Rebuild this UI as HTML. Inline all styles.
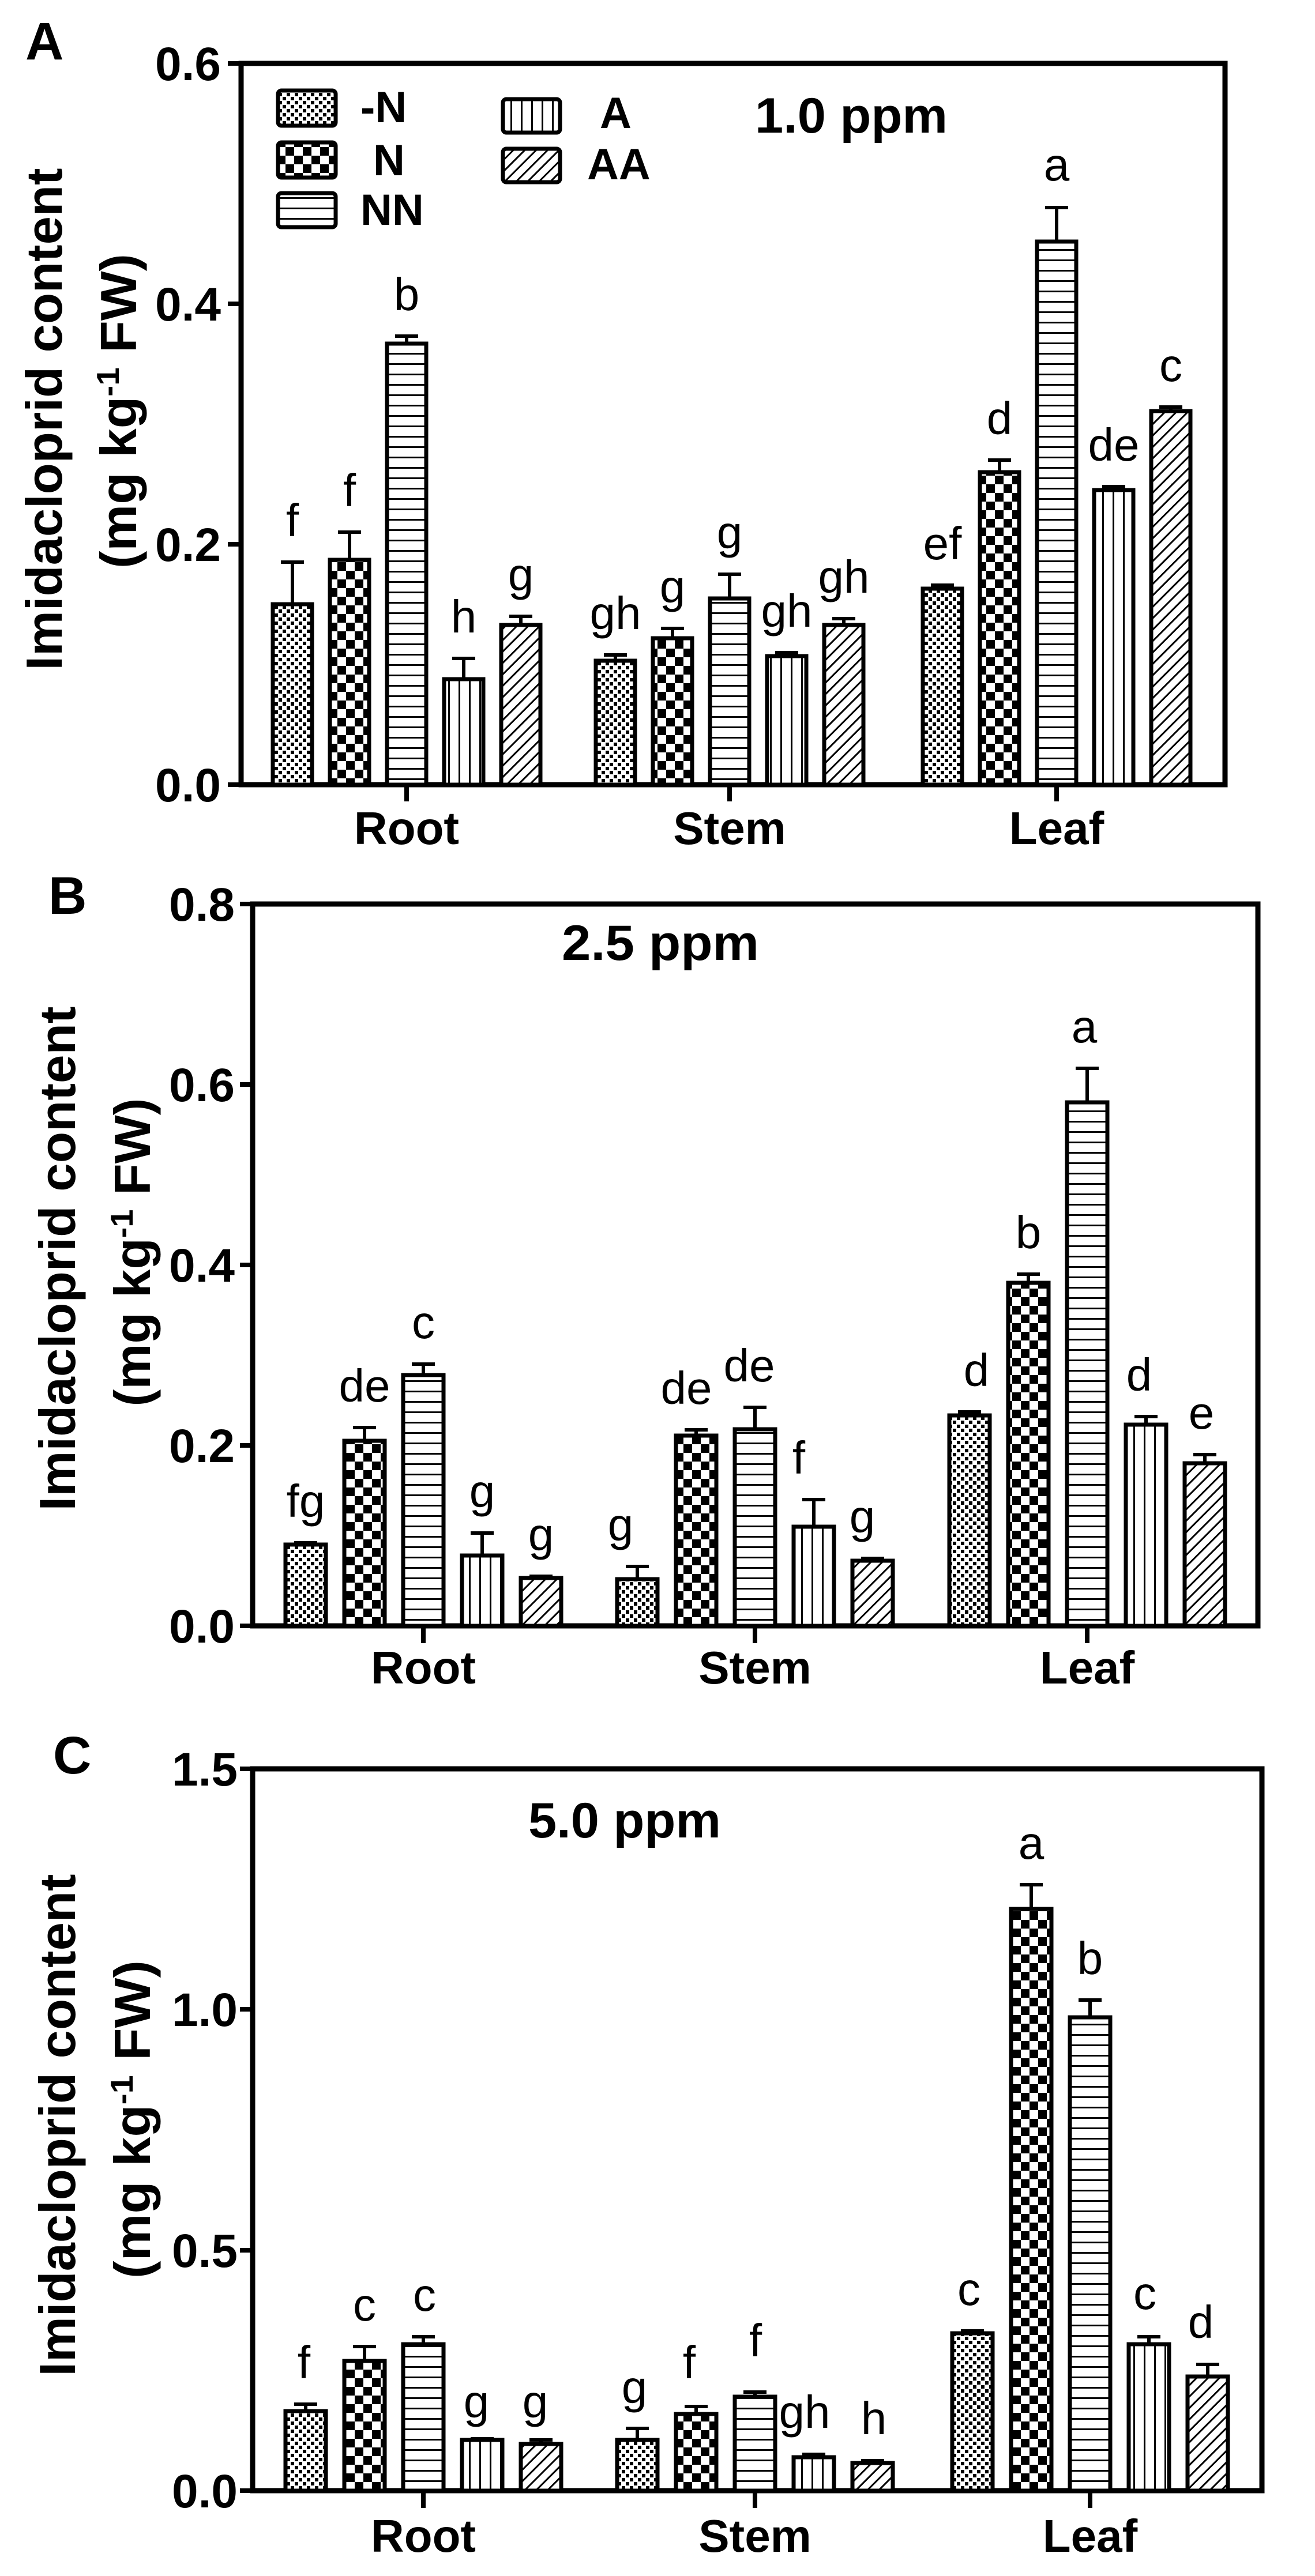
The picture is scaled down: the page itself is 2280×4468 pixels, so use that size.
<!DOCTYPE html>
<html><head><meta charset="utf-8"><style>html,body{margin:0;padding:0;background:#fff}svg{display:block}</style></head><body>
<svg width="2280" height="4468" viewBox="0 0 2280 4468" xmlns="http://www.w3.org/2000/svg" font-family="Liberation Sans, Arial, sans-serif">
<defs>
<pattern id="pd" patternUnits="userSpaceOnUse" width="14" height="14"><rect width="14" height="14" fill="#fff"/><rect x="0" y="0" width="6" height="6" fill="#000"/><rect x="7" y="7" width="6" height="6" fill="#000"/></pattern>
<pattern id="pc" patternUnits="userSpaceOnUse" width="30" height="30"><rect width="30" height="30" fill="#fff"/><rect x="0" y="0" width="15" height="15" fill="#000"/><rect x="15" y="15" width="15" height="15" fill="#000"/></pattern>
<pattern id="ph" patternUnits="userSpaceOnUse" width="18" height="18"><rect width="18" height="18" fill="#fff"/><rect x="0" y="0" width="18" height="3" fill="#000"/></pattern>
<pattern id="pv" patternUnits="userSpaceOnUse" width="18" height="18" x="3"><rect width="18" height="18" fill="#fff"/><rect x="0" y="0" width="3" height="18" fill="#000"/></pattern>
<pattern id="pa" patternUnits="userSpaceOnUse" width="14" height="14" patternTransform="rotate(45)"><rect width="14" height="14" fill="#fff"/><rect x="0" y="0" width="3" height="14" fill="#000"/></pattern>
</defs>
<style>
.bar{stroke:#000;stroke-width:7}
.ax{stroke:#000;stroke-width:9;fill:none}
.eb{stroke:#000;stroke-width:6;fill:none}
.tl{font-weight:bold;font-size:82px;text-anchor:end}
.cl{font-weight:bold;font-size:80px;text-anchor:middle}
.lt{font-size:80px;text-anchor:middle}
.yl{font-weight:bold;font-size:88px;text-anchor:middle}
.pl{font-weight:bold;font-size:92px}
.pp{font-weight:bold;font-size:86px}
.lg{font-weight:bold;font-size:76px}
</style>

<!-- ================= PANEL A ================= -->
<text class="pl" x="44" y="103">A</text>
<text class="yl" transform="translate(107,727) rotate(-90)" textLength="871" lengthAdjust="spacingAndGlyphs">Imidacloprid content</text>
<text class="yl" transform="translate(236,713) rotate(-90)" textLength="546" lengthAdjust="spacingAndGlyphs">(mg kg<tspan font-size="55" dy="-30">-1</tspan><tspan dy="30"> FW)</tspan></text>
<path class="ax" d="M418 110 H2124 V1361 H418 Z"/>
<g stroke="#000" stroke-width="8">
<line x1="395" y1="110" x2="418" y2="110"/><line x1="395" y1="527" x2="418" y2="527"/><line x1="395" y1="944" x2="418" y2="944"/><line x1="395" y1="1361" x2="418" y2="1361"/>
<line x1="705" y1="1361" x2="705" y2="1390"/><line x1="1265" y1="1361" x2="1265" y2="1390"/><line x1="1832" y1="1361" x2="1832" y2="1390"/>
</g>
<text class="tl" x="383" y="139">0.6</text><text class="tl" x="383" y="556">0.4</text><text class="tl" x="383" y="973">0.2</text><text class="tl" x="383" y="1390">0.0</text>
<text class="cl" x="705" y="1464">Root</text><text class="cl" x="1265" y="1464">Stem</text><text class="cl" x="1832" y="1464">Leaf</text>
<rect class="bar" x="482" y="157" width="100" height="61" rx="6" fill="url(#pd)"/>
<rect class="bar" x="482" y="247" width="100" height="61" rx="6" fill="url(#pc)"/>
<rect class="bar" x="482" y="335" width="100" height="59" rx="6" fill="url(#ph)"/>
<rect class="bar" x="872" y="172" width="99" height="58" rx="6" fill="url(#pv)"/>
<rect class="bar" x="872" y="258" width="99" height="58" rx="6" fill="url(#pa)"/>
<text class="lg" x="625" y="212">-N</text><text class="lg" x="647" y="304">N</text><text class="lg" x="625" y="390">NN</text>
<text class="lg" x="1040" y="222">A</text><text class="lg" x="1018" y="311">AA</text>
<text class="pp" x="1309" y="230" textLength="334" lengthAdjust="spacingAndGlyphs">1.0 ppm</text>
<g class="eb">
<path d="M507 1048V975M487 975H527"/><path d="M606 971V923M586 923H626"/><path d="M705 596V583M685 583H725"/><path d="M804 1178V1142M784 1142H824"/><path d="M903 1084V1069M883 1069H923"/>
<path d="M1067 1146V1136M1047 1136H1087"/><path d="M1166 1107V1090M1146 1090H1186"/><path d="M1265 1038V996M1245 996H1285"/><path d="M1364 1138V1132M1344 1132H1384"/><path d="M1463 1084V1073M1443 1073H1483"/>
<path d="M1634 1021V1015M1614 1015H1654"/><path d="M1733 819V798M1713 798H1753"/><path d="M1832 419V360M1812 360H1852"/><path d="M1931 850V844M1911 844H1951"/><path d="M2030 713V706M2010 706H2050"/>
</g>
<rect class="bar" x="473" y="1048" width="68" height="313" fill="url(#pd)"/>
<rect class="bar" x="572" y="971" width="68" height="390" fill="url(#pc)"/>
<rect class="bar" x="671" y="596" width="68" height="765" fill="url(#ph)"/>
<rect class="bar" x="770" y="1178" width="68" height="183" fill="url(#pv)"/>
<rect class="bar" x="869" y="1084" width="68" height="277" fill="url(#pa)"/>
<rect class="bar" x="1033" y="1146" width="68" height="215" fill="url(#pd)"/>
<rect class="bar" x="1132" y="1107" width="68" height="254" fill="url(#pc)"/>
<rect class="bar" x="1231" y="1038" width="68" height="323" fill="url(#ph)"/>
<rect class="bar" x="1330" y="1138" width="68" height="223" fill="url(#pv)"/>
<rect class="bar" x="1429" y="1084" width="68" height="277" fill="url(#pa)"/>
<rect class="bar" x="1600" y="1021" width="68" height="340" fill="url(#pd)"/>
<rect class="bar" x="1699" y="819" width="68" height="542" fill="url(#pc)"/>
<rect class="bar" x="1798" y="419" width="68" height="942" fill="url(#ph)"/>
<rect class="bar" x="1897" y="850" width="68" height="511" fill="url(#pv)"/>
<rect class="bar" x="1996" y="713" width="68" height="648" fill="url(#pa)"/>
<text class="lt" x="507" y="930">f</text><text class="lt" x="606" y="878">f</text><text class="lt" x="705" y="538">b</text><text class="lt" x="804" y="1097">h</text><text class="lt" x="903" y="1024">g</text>
<text class="lt" x="1067" y="1091">gh</text><text class="lt" x="1166" y="1045">g</text><text class="lt" x="1265" y="951">g</text><text class="lt" x="1364" y="1087">gh</text><text class="lt" x="1463" y="1028">gh</text>
<text class="lt" x="1634" y="970">ef</text><text class="lt" x="1733" y="753">d</text><text class="lt" x="1832" y="313">a</text><text class="lt" x="1931" y="799">de</text><text class="lt" x="2030" y="661">c</text>

<!-- ================= PANEL B ================= -->
<text class="pl" x="84" y="1585">B</text>
<text class="yl" transform="translate(130,2183) rotate(-90)" textLength="875" lengthAdjust="spacingAndGlyphs">Imidacloprid content</text>
<text class="yl" transform="translate(260,2172) rotate(-90)" textLength="535" lengthAdjust="spacingAndGlyphs">(mg kg<tspan font-size="55" dy="-30">-1</tspan><tspan dy="30"> FW)</tspan></text>
<path class="ax" d="M438 1568 H2181 V2820 H438 Z"/>
<g stroke="#000" stroke-width="8">
<line x1="416" y1="1568" x2="438" y2="1568"/><line x1="416" y1="1881" x2="438" y2="1881"/><line x1="416" y1="2194" x2="438" y2="2194"/><line x1="416" y1="2507" x2="438" y2="2507"/><line x1="416" y1="2820" x2="438" y2="2820"/>
<line x1="734" y1="2820" x2="734" y2="2850"/><line x1="1309" y1="2820" x2="1309" y2="2850"/><line x1="1885" y1="2820" x2="1885" y2="2850"/>
</g>
<text class="tl" x="407" y="1597">0.8</text><text class="tl" x="407" y="1910">0.6</text><text class="tl" x="407" y="2223">0.4</text><text class="tl" x="407" y="2536">0.2</text><text class="tl" x="407" y="2849">0.0</text>
<text class="cl" x="734" y="2920">Root</text><text class="cl" x="1309" y="2920">Stem</text><text class="cl" x="1885" y="2920">Leaf</text>
<text class="pp" x="974" y="1665" textLength="342" lengthAdjust="spacingAndGlyphs">2.5 ppm</text>
<g class="eb">
<path d="M530 2679V2676M510 2676H550"/><path d="M632 2499V2476M612 2476H652"/><path d="M734 2385V2366M714 2366H754"/><path d="M836 2698V2659M816 2659H856"/><path d="M938 2737V2734M918 2734H958"/>
<path d="M1105 2739V2717M1085 2717H1125"/><path d="M1207 2490V2480M1187 2480H1227"/><path d="M1309 2479V2441M1289 2441H1329"/><path d="M1411 2648V2601M1391 2601H1431"/><path d="M1513 2707V2703M1493 2703H1533"/>
<path d="M1681 2455V2449M1661 2449H1701"/><path d="M1783 2225V2210M1763 2210H1803"/><path d="M1885 1912V1853M1865 1853H1905"/><path d="M1987 2471V2457M1967 2457H2007"/><path d="M2089 2538V2523M2069 2523H2109"/>
</g>
<rect class="bar" x="495" y="2679" width="70" height="141" fill="url(#pd)"/>
<rect class="bar" x="597" y="2499" width="70" height="321" fill="url(#pc)"/>
<rect class="bar" x="699" y="2385" width="70" height="435" fill="url(#ph)"/>
<rect class="bar" x="801" y="2698" width="70" height="122" fill="url(#pv)"/>
<rect class="bar" x="903" y="2737" width="70" height="83" fill="url(#pa)"/>
<rect class="bar" x="1070" y="2739" width="70" height="81" fill="url(#pd)"/>
<rect class="bar" x="1172" y="2490" width="70" height="330" fill="url(#pc)"/>
<rect class="bar" x="1274" y="2479" width="70" height="341" fill="url(#ph)"/>
<rect class="bar" x="1376" y="2648" width="70" height="172" fill="url(#pv)"/>
<rect class="bar" x="1478" y="2707" width="70" height="113" fill="url(#pa)"/>
<rect class="bar" x="1646" y="2455" width="70" height="365" fill="url(#pd)"/>
<rect class="bar" x="1748" y="2225" width="70" height="595" fill="url(#pc)"/>
<rect class="bar" x="1850" y="1912" width="70" height="908" fill="url(#ph)"/>
<rect class="bar" x="1952" y="2471" width="70" height="349" fill="url(#pv)"/>
<rect class="bar" x="2054" y="2538" width="70" height="282" fill="url(#pa)"/>
<text class="lt" x="530" y="2631">fg</text><text class="lt" x="632" y="2431">de</text><text class="lt" x="734" y="2321">c</text><text class="lt" x="836" y="2614">g</text><text class="lt" x="938" y="2689">g</text>
<text class="lt" x="1076" y="2672">g</text><text class="lt" x="1190" y="2435">de</text><text class="lt" x="1299" y="2396">de</text><text class="lt" x="1385" y="2556">f</text><text class="lt" x="1495" y="2658">g</text>
<text class="lt" x="1693" y="2404">d</text><text class="lt" x="1783" y="2165">b</text><text class="lt" x="1880" y="1808">a</text><text class="lt" x="1975" y="2412">d</text><text class="lt" x="2083" y="2478">e</text>

<!-- ================= PANEL C ================= -->
<text class="pl" x="92" y="3076">C</text>
<text class="yl" transform="translate(130,3686) rotate(-90)" textLength="871" lengthAdjust="spacingAndGlyphs">Imidacloprid content</text>
<text class="yl" transform="translate(260,3676) rotate(-90)" textLength="552" lengthAdjust="spacingAndGlyphs">(mg kg<tspan font-size="55" dy="-30">-1</tspan><tspan dy="30"> FW)</tspan></text>
<path class="ax" d="M438 3068 H2188 V4320 H438 Z"/>
<g stroke="#000" stroke-width="8">
<line x1="416" y1="3068" x2="438" y2="3068"/><line x1="416" y1="3485" x2="438" y2="3485"/><line x1="416" y1="3903" x2="438" y2="3903"/><line x1="416" y1="4320" x2="438" y2="4320"/>
<line x1="734" y1="4320" x2="734" y2="4350"/><line x1="1309" y1="4320" x2="1309" y2="4350"/><line x1="1890" y1="4320" x2="1890" y2="4350"/>
</g>
<text class="tl" x="412" y="3097">1.5</text><text class="tl" x="412" y="3514">1.0</text><text class="tl" x="412" y="3932">0.5</text><text class="tl" x="412" y="4349">0.0</text>
<text class="cl" x="734" y="4426">Root</text><text class="cl" x="1309" y="4426">Stem</text><text class="cl" x="1890" y="4426">Leaf</text>
<text class="pp" x="916" y="3187" textLength="334" lengthAdjust="spacingAndGlyphs">5.0 ppm</text>
<g class="eb">
<path d="M530 4182V4170M510 4170H550"/><path d="M632 4095V4070M612 4070H652"/><path d="M734 4066V4053M714 4053H754"/><path d="M836 4232V4230M816 4230H856"/><path d="M938 4239V4232M918 4232H958"/>
<path d="M1105 4232V4212M1085 4212H1125"/><path d="M1207 4187V4174M1187 4174H1227"/><path d="M1309 4157V4149M1289 4149H1329"/><path d="M1411 4262V4257M1391 4257H1431"/><path d="M1513 4272V4268M1493 4268H1533"/>
<path d="M1686 4047V4043M1666 4043H1706"/><path d="M1788 3311V3269M1768 3269H1808"/><path d="M1890 3499V3469M1870 3469H1910"/><path d="M1992 4066V4053M1972 4053H2012"/><path d="M2094 4122V4101M2074 4101H2114"/>
</g>
<rect class="bar" x="495" y="4182" width="70" height="138" fill="url(#pd)"/>
<rect class="bar" x="597" y="4095" width="70" height="225" fill="url(#pc)"/>
<rect class="bar" x="699" y="4066" width="70" height="254" fill="url(#ph)"/>
<rect class="bar" x="801" y="4232" width="70" height="88" fill="url(#pv)"/>
<rect class="bar" x="903" y="4239" width="70" height="81" fill="url(#pa)"/>
<rect class="bar" x="1070" y="4232" width="70" height="88" fill="url(#pd)"/>
<rect class="bar" x="1172" y="4187" width="70" height="133" fill="url(#pc)"/>
<rect class="bar" x="1274" y="4157" width="70" height="163" fill="url(#ph)"/>
<rect class="bar" x="1376" y="4262" width="70" height="58" fill="url(#pv)"/>
<rect class="bar" x="1478" y="4272" width="70" height="48" fill="url(#pa)"/>
<rect class="bar" x="1651" y="4047" width="70" height="273" fill="url(#pd)"/>
<rect class="bar" x="1753" y="3311" width="70" height="1009" fill="url(#pc)"/>
<rect class="bar" x="1855" y="3499" width="70" height="821" fill="url(#ph)"/>
<rect class="bar" x="1957" y="4066" width="70" height="254" fill="url(#pv)"/>
<rect class="bar" x="2059" y="4122" width="70" height="198" fill="url(#pa)"/>
<text class="lt" x="527" y="4125">f</text><text class="lt" x="632" y="4025">c</text><text class="lt" x="736" y="4008">c</text><text class="lt" x="826" y="4193">g</text><text class="lt" x="928" y="4193">g</text>
<text class="lt" x="1100" y="4168">g</text><text class="lt" x="1195" y="4125">f</text><text class="lt" x="1310" y="4087">f</text><text class="lt" x="1395" y="4211">gh</text><text class="lt" x="1515" y="4222">h</text>
<text class="lt" x="1680" y="3998">c</text><text class="lt" x="1788" y="3224">a</text><text class="lt" x="1890" y="3424">b</text><text class="lt" x="1985" y="4005">c</text><text class="lt" x="2082" y="4055">d</text>
</svg>
</body></html>
